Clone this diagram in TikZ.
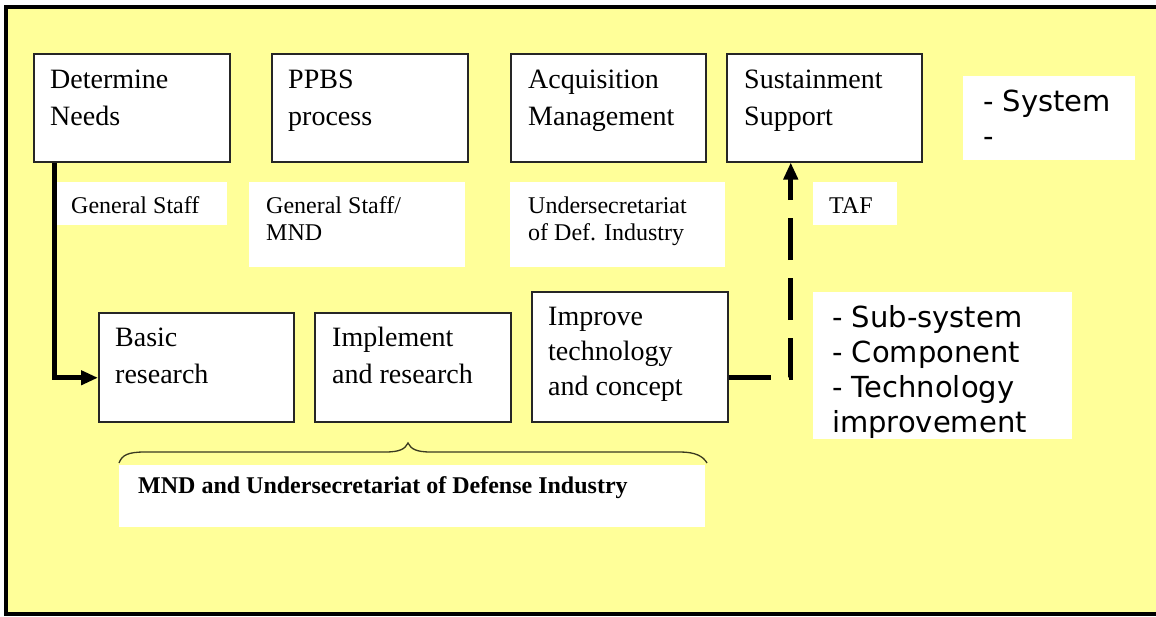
\documentclass[tikz,border=0pt]{standalone}
\usepackage{fontspec}
\setmainfont{Liberation Serif}
\newfontfamily\sansfnt{DejaVu Sans}
\usetikzlibrary{arrows.meta}
\definecolor{bgyellow}{HTML}{FFFF99}
\definecolor{bracecol}{HTML}{3A3A20}
\newcommand{\mylines}[1]{\begin{tabular}[t]{@{}l@{}}#1\end{tabular}}
\begin{document}
\begin{tikzpicture}[x=1pt,y=-1pt,
  box/.style={draw=black!85, line width=1.5pt, fill=white, anchor=north west, inner sep=0pt},
  tag/.style={fill=white, anchor=north west, inner sep=0pt},
  boxtext/.style={anchor=base west, inner sep=0pt, font=\fontsize{28}{37}\selectfont},
  boxtextb/.style={anchor=base west, inner sep=0pt, font=\fontsize{28}{35}\selectfont},
  tagtext/.style={anchor=base west, inner sep=0pt, font=\fontsize{24}{27}\selectfont},
  sanstext/.style={anchor=base west, inner sep=0pt, font=\sansfnt\fontsize{29}{35}\selectfont},
  conn/.style={line width=5pt, -{Triangle[length=17pt,width=14pt]}},
]
\useasboundingbox (0,0) rectangle (1156,616);
% frame
\fill[white] (0,0) rectangle (1156,616);
\fill[bgyellow] (6,7) rectangle (1156,614);
\draw[line width=4pt] (1156,7) -- (6,7) -- (6,614) -- (1156,614);

% top row boxes
\node[box, minimum width=196pt, minimum height=108pt] (dn) at (33,53) {};
\node[box, minimum width=196pt, minimum height=108pt] (ppbs) at (271,53) {};
\node[box, minimum width=195pt, minimum height=108pt] (acq) at (510,53) {};
\node[box, minimum width=195pt, minimum height=108pt] (sus) at (726,53) {};
\node[tag, minimum width=172pt, minimum height=84pt] (sys) at (963,76) {};

\node[boxtext] (dn-t) at (50,88) {\mylines{Determine\\Needs}};
\node[boxtext] (ppbs-t) at (288,88) {\mylines{PPBS\\process}};
\node[boxtext] (acq-t) at (528,88) {\mylines{Acquisition\\Management}};
\node[boxtext] (sus-t) at (744,88) {\mylines{Sustainment\\Support}};
\node[sanstext] (sys-t) at (983,111) {\mylines{- System\\-}};

% labels
\node[tag, minimum width=170pt, minimum height=43pt] (gs) at (57,182) {};
\node[tag, minimum width=216pt, minimum height=85pt] (gsm) at (249,182) {};
\node[tag, minimum width=215pt, minimum height=85pt] (und) at (510,182) {};
\node[tag, minimum width=84pt, minimum height=43pt] (taf) at (813,182) {};

\node[tagtext] (gs-t) at (71,213) {General Staff};
\node[tagtext] (gsm-t) at (266,213) {\mylines{General Staff/\\MND}};
\node[tagtext] (und-t) at (528,213) {\mylines{Undersecretariat\\of Def. Industry}};
\node[tagtext] (taf-t) at (829,213) {TAF};

% bottom row
\node[box, minimum width=195pt, minimum height=109pt] (basic) at (98,312) {};
\node[box, minimum width=196pt, minimum height=109pt] (impl) at (314,312) {};
\node[box, minimum width=196pt, minimum height=130pt] (imp) at (531,291) {};
\node[tag, minimum width=259pt, minimum height=147pt] (sub) at (813,292) {};

\node[boxtext] (basic-t) at (115,346) {\mylines{Basic\\research}};
\node[boxtext] (impl-t) at (332,346) {\mylines{Implement\\and research}};
\node[boxtextb] (imp-t) at (548,325) {\mylines{Improve\\technology\\and concept}};
\node[sanstext] (sub-t) at (832,327) {\mylines{- Sub-system\\- Component\\- Technology\\improvement}};

% brace and bottom label
\draw[line width=1.3pt, bracecol] (119,463) .. controls (122,455) and (128,452) .. (145,452)
  -- (385,452) .. controls (400,452) and (405,449) .. (408,443)
  .. controls (411,449) and (416,452) .. (431,452)
  -- (680,452) .. controls (695,452) and (703,456) .. (707,463);
\node[tag, minimum width=586pt, minimum height=62pt] (mnd) at (119,465) {};
\node[tagtext, font=\bfseries\fontsize{24}{27}\selectfont] (mnd-t) at (138,493) {MND and Undersecretariat of Defense Industry};

% connectors
\draw[conn] ([xshift=21.5pt]dn.south west) |- ([yshift=-10.5pt]basic.west);
\draw[conn, dash pattern=on 42pt off 18pt] ([yshift=-21pt]imp.east) -| ([xshift=-33.5pt]sus.south);
\end{tikzpicture}
\end{document}
